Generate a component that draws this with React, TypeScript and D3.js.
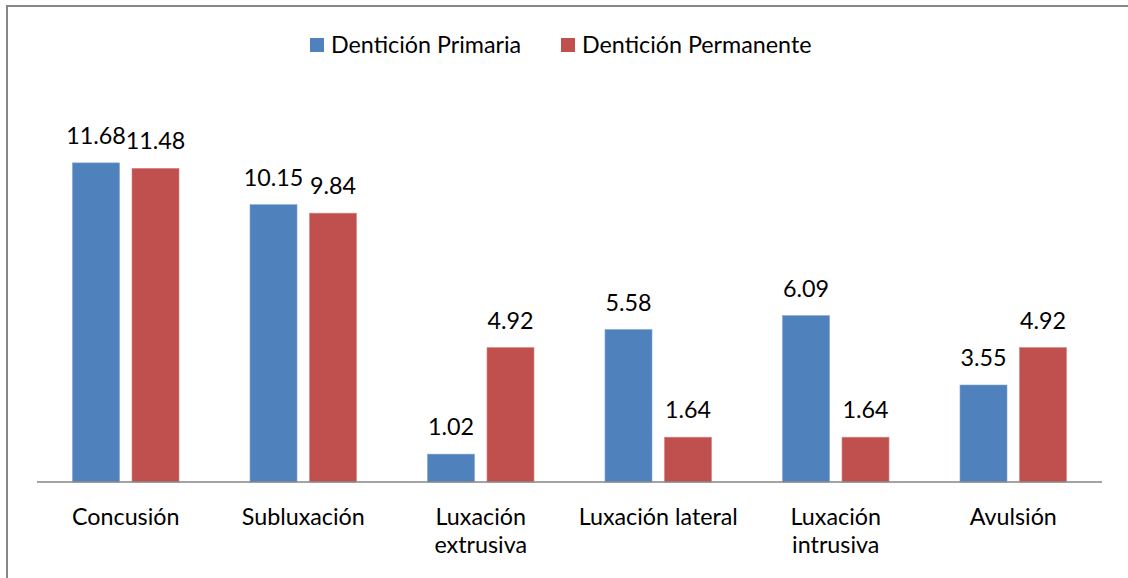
import React from "react";
import * as d3 from "d3";

const categories = ["Concusión", "Subluxación", "Luxación\nextrusiva", "Luxación lateral", "Luxación\nintrusiva", "Avulsión"];
const seriesNames = ["Dentición Primaria", "Dentición Permanente"];
const primaria = [11.68, 10.15, 1.02, 5.58, 6.09, 3.55];
const permanente = [11.48, 9.84, 4.92, 1.64, 1.64, 4.92];
const colors = ["#4F81BD", "#C0504D"];

const W = 1128;
const H = 578;
const FONT = "Lato, 'Open Sans', sans-serif";
const FS = 23.3;

export default function App() {
  const x0 = d3.scaleBand<number>().domain(d3.range(categories.length)).range([37, 1102]).paddingInner(0).paddingOuter(0);
  const y = d3.scaleLinear().domain([0, 14]).range([482, 99.5]);
  const barW = 47;
  const gap = 12.5;
  const series = [primaria, permanente];

  return (
    <svg width={W} height={H} style={{ position: "absolute", left: 0, top: 0, background: "#fff", overflow: "hidden" }}>
      <path d={`M7,${H + 20} V6 H${W + 20}`} fill="none" stroke="#868686" strokeWidth={2} />
      {/* legend */}
      {seriesNames.map((n, i) => {
        const lx = i === 0 ? 310 : 561;
        return (
          <g key={n}>
            <rect x={lx} y={38} width={14} height={14} fill={colors[i]} />
            <text x={lx + 21} y={53} fontFamily={FONT} fontSize={FS} fill="#000">{n}</text>
          </g>
        );
      })}
      {categories.map((c, ci) => {
        const cx = (x0(ci) as number) + x0.bandwidth() / 2;
        return (
          <g key={c}>
            {series.map((s, si) => {
              const bx = si === 0 ? cx - gap / 2 - barW : cx + gap / 2;
              const v = s[ci];
              return (
                <g key={si}>
                  <rect x={bx} y={y(v)} width={barW} height={y(0) - y(v)} fill={colors[si]} stroke={si === 0 ? "#7FA3D3" : "#D68280"} strokeWidth={0.6} />
                  <text x={bx + barW / 2} y={y(v) - 19} textAnchor="middle" fontFamily={FONT} fontSize={FS} fill="#000">{v.toFixed(2)}</text>
                </g>
              );
            })}
            {c.split("\n").map((line, li) => (
              <text key={li} x={cx} y={525 + li * 28} textAnchor="middle" fontFamily={FONT} fontSize={FS} fill="#000">{line}</text>
            ))}
          </g>
        );
      })}
      <line x1={37} x2={1102} y1={y(0)} y2={y(0)} stroke="#868686" strokeWidth={1.5} />
    </svg>
  );
}
